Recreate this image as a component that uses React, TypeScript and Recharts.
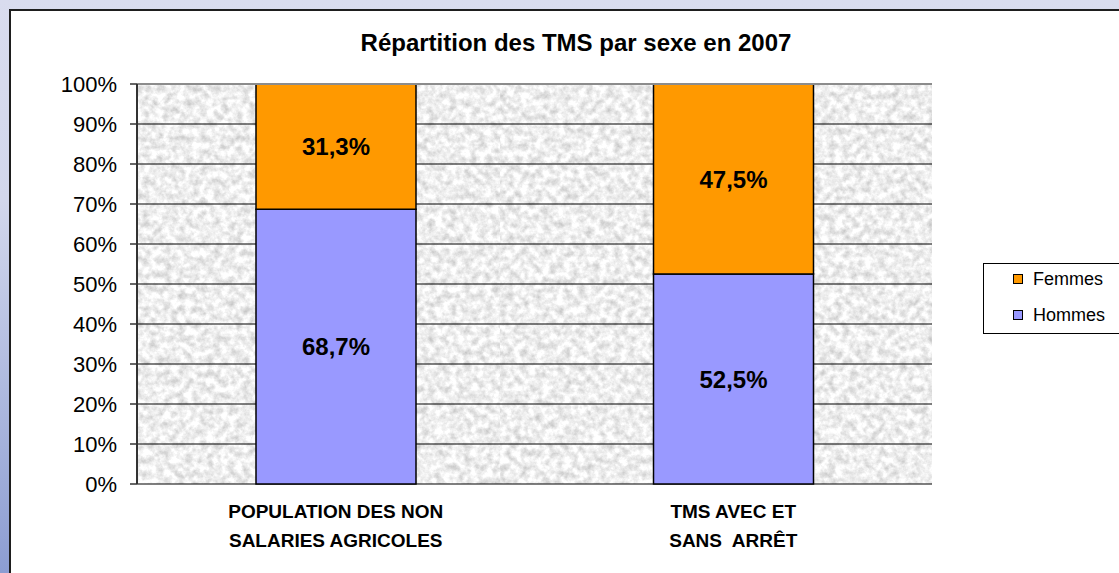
import React from 'react';
import { BarChart, Bar, XAxis, YAxis, CartesianGrid, LabelList, Legend, ReferenceLine } from 'recharts';

const categories = ['POPULATION DES NON\nSALARIES AGRICOLES', 'TMS AVEC ET\nSANS  ARRÊT'];
const hommes = [68.7, 52.5];
const femmes = [31.3, 47.5];
const yTicks = [0, 10, 20, 30, 40, 50, 60, 70, 80, 90, 100];
const edgeTicks = [0, 1, 2];
const title = 'Répartition des TMS par sexe en 2007';
const seriesNames = { hommes: 'Hommes', femmes: 'Femmes' };
const colors = { hommes: '#9999ff', femmes: '#ff9900' };

const data = categories.map((name, i) => ({ name, hommes: hommes[i], femmes: femmes[i] }));

const fmt = (v: any) => `${Number(v).toFixed(1).replace('.', ',')}%`;

const CatTick = (props: any) => {
  const { x, y, payload } = props;
  const lines = String(payload.value).split('\n');
  return (
    <g>
      {lines.map((l, i) => (
        <text
          key={i}
          x={x}
          y={y + 27 + i * 29}
          textAnchor="middle"
          dominantBaseline="central"
          fontSize={19}
          fontWeight="bold"
          fill="#000"
          style={{ whiteSpace: 'pre' }}
        >
          {l}
        </text>
      ))}
    </g>
  );
};

const LegendContent = () => {
  const items = [
    { name: seriesNames.femmes, color: colors.femmes },
    { name: seriesNames.hommes, color: colors.hommes },
  ];
  return (
    <div
      style={{
        width: 140,
        height: 71,
        border: '1px solid #000',
        background: '#fff',
        position: 'relative',
        boxSizing: 'border-box',
      }}
    >
      {items.map((it, i) => (
        <div
          key={it.name}
          style={{ position: 'absolute', left: 29, top: 4 + i * 36, height: 22, display: 'flex', alignItems: 'center' }}
        >
          <div style={{ width: 10, height: 10, background: it.color, border: '1px solid #000', boxSizing: 'border-box' }} />
          <span style={{ marginLeft: 10, fontSize: 18, color: '#000', lineHeight: '22px' }}>{it.name}</span>
        </div>
      ))}
    </div>
  );
};

export default function App() {
  return (
    <div
      style={{
        position: 'absolute',
        left: 0,
        top: 0,
        width: 1119,
        height: 573,
        overflow: 'hidden',
        background: 'linear-gradient(180deg, #d9dcee 0%, #d2d7ec 35%, #8c9dd2 100%)',
        fontFamily: '"Liberation Sans", Arial, sans-serif',
      }}
    >
      <div
        style={{
          position: 'absolute',
          left: 9,
          top: 9,
          width: 1300,
          height: 700,
          background: '#fff',
          borderTop: '2px solid #1e1e1e',
          borderLeft: '2px solid #1e1e1e',
        }}
      />
      <div
        style={{
          position: 'absolute',
          left: 0,
          top: 31,
          width: 1152,
          textAlign: 'center',
          fontSize: 24,
          lineHeight: '24px',
          fontWeight: 'bold',
          color: '#000',
        }}
      >
        {title}
      </div>
      <div style={{ position: 'absolute', left: 0, top: 0 }}>
        <BarChart
          width={1119}
          height={573}
          data={data}
          margin={{ top: 84, right: 187, left: 0, bottom: 9 }}
          barSize={160}
        >
          <defs>
            <filter id="graniteNoise" x="0" y="0" width="100%" height="100%" colorInterpolationFilters="sRGB">
              <feTurbulence type="fractalNoise" baseFrequency="0.14" numOctaves={4} seed={7} />
              <feColorMatrix
                type="matrix"
                values="0.38 0 0 0 0.745  0.38 0 0 0 0.745  0.38 0 0 0 0.745  0 0 0 0 1"
              />
            </filter>
            <pattern id="granite" patternUnits="userSpaceOnUse" x="0" y="0" width="500" height="500">
              <rect x="0" y="0" width="500" height="500" filter="url(#graniteNoise)" />
            </pattern>
          </defs>
          <CartesianGrid vertical={false} stroke="#000" strokeWidth={1} fill="url(#granite)" fillOpacity={1} />
          <XAxis
            xAxisId="edge"
            type="number"
            domain={[0, 2]}
            ticks={edgeTicks}
            allowDataOverflow
            tick={false}
            tickSize={6}
            height={0}
            axisLine={{ stroke: '#333', strokeWidth: 2 }}
            tickLine={{ stroke: '#555', strokeWidth: 1.5 }}
          />
          <XAxis
            dataKey="name"
            height={80}
            axisLine={false}
            tickLine={false}
            tickSize={0}
            tickMargin={0}
            interval={0}
            tick={<CatTick />}
          />
          <YAxis
            domain={[0, 100]}
            ticks={yTicks}
            width={137}
            tickSize={7}
            tickMargin={13}
            tickFormatter={(v: number) => `${v}%`}
            tick={{ fontSize: 22, fill: '#000' }}
            axisLine={{ stroke: '#333', strokeWidth: 2 }}
            tickLine={{ stroke: '#333', strokeWidth: 1.5 }}
          />
          <ReferenceLine y={100} stroke="#8c8c8c" strokeWidth={2} />
          <ReferenceLine xAxisId="edge" x={2} stroke="#8c8c8c" strokeWidth={2} />
          <Legend
            layout="vertical"
            align="center"
            verticalAlign="middle"
            content={<LegendContent />}
            wrapperStyle={{ left: 983, top: 263, width: 140, height: 71 }}
          />
          <Bar dataKey="hommes" name={seriesNames.hommes} stackId="a" fill={colors.hommes} stroke="#000" strokeWidth={1.5} isAnimationActive={false}>
            <LabelList dataKey="hommes" position="center" formatter={fmt} fontSize={24} fontWeight="bold" fill="#000" />
          </Bar>
          <Bar dataKey="femmes" name={seriesNames.femmes} stackId="a" fill={colors.femmes} stroke="#000" strokeWidth={1.5} isAnimationActive={false}>
            <LabelList dataKey="femmes" position="center" formatter={fmt} fontSize={24} fontWeight="bold" fill="#000" />
          </Bar>
        </BarChart>
      </div>
    </div>
  );
}
